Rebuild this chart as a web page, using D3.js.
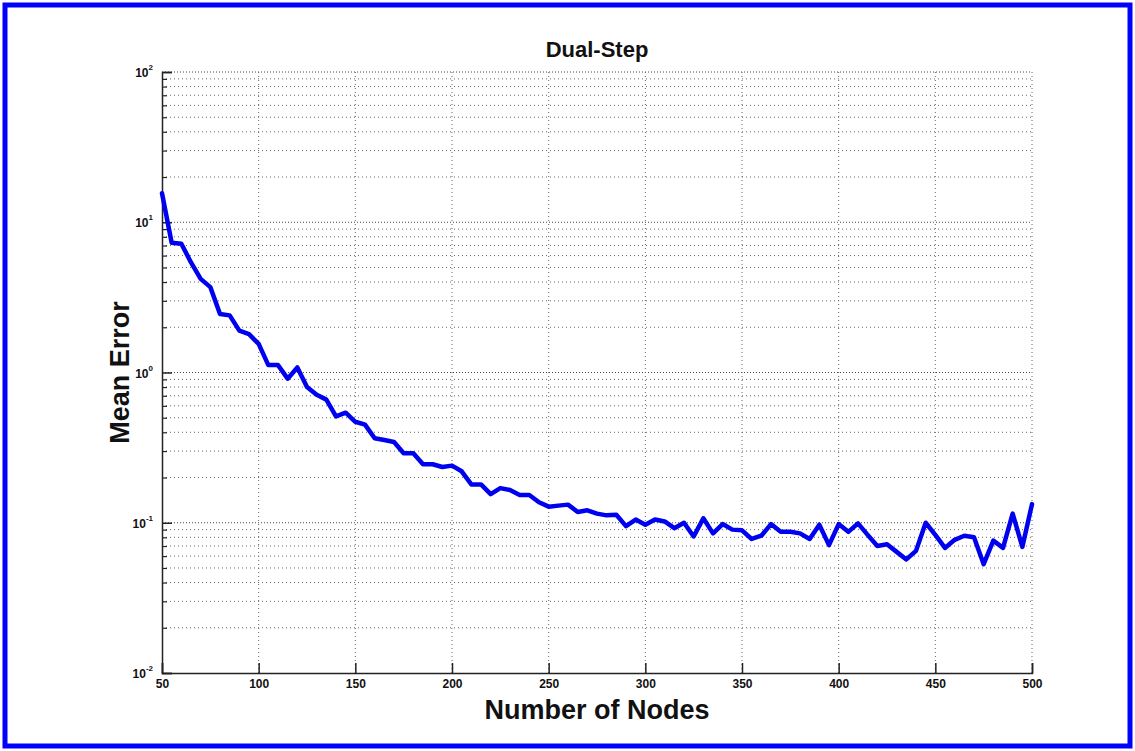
<!DOCTYPE html>
<html>
<head>
<meta charset="utf-8">
<script src="https://cdn.jsdelivr.net/npm/d3@7/dist/d3.min.js"></script>
<style>
html,body{margin:0;padding:0;background:#fff;}
svg{display:block;font-family:"Liberation Sans",Arial,sans-serif;}
</style>
</head>
<body>
<svg id="chart" width="1135" height="751"></svg>
<script>
const nodes = d3.range(50, 501, 5);
const meanError = [
  15.6, 7.3, 7.2, 5.4, 4.2, 3.7, 2.45, 2.4, 1.9, 1.8, 1.55,
  1.12, 1.12, 0.91, 1.08, 0.80, 0.71, 0.66, 0.51, 0.54, 0.47,
  0.45, 0.365, 0.355, 0.345, 0.29, 0.29, 0.245, 0.245, 0.235, 0.24,
  0.22, 0.18, 0.18, 0.155, 0.17, 0.165, 0.153, 0.153, 0.137, 0.128,
  0.13, 0.132, 0.118, 0.121, 0.115, 0.112, 0.113, 0.095, 0.105, 0.097,
  0.105, 0.102, 0.092, 0.1, 0.081, 0.107, 0.085, 0.098, 0.09, 0.089,
  0.078, 0.082, 0.098, 0.087, 0.087, 0.085, 0.078, 0.097, 0.071, 0.098,
  0.087, 0.099, 0.083, 0.070, 0.072, 0.064, 0.057, 0.065, 0.1, 0.083,
  0.068, 0.077, 0.082, 0.08, 0.053, 0.076, 0.068, 0.115, 0.069, 0.133
];
const xTicks = [50, 100, 150, 200, 250, 300, 350, 400, 450, 500];
const yDecades = [-2, -1, 0, 1, 2];
const titleText = "Dual-Step";
const xLabel = "Number of Nodes";
const yLabel = "Mean Error";

const svg = d3.select("#chart");
const m = {left:162, right:1032, top:72, bottom:673};

const x = d3.scaleLinear().domain([50, 500]).range([m.left, m.right]);
const y = d3.scaleLog().domain([0.01, 100]).range([m.bottom, m.top]);

// blue frame
svg.append("rect").attr("x", 5).attr("y", 5).attr("width", 1125).attr("height", 741)
  .attr("fill", "none").attr("stroke", "#0000ff").attr("stroke-width", 5);

const g = svg.append("g");

const minorVals = [];
for (let e = -2; e < 2; e++) for (let k = 2; k <= 9; k++) minorVals.push(k * Math.pow(10, e));
const majorVals = yDecades.map(e => Math.pow(10, e));

g.selectAll("line.hmin").data(minorVals).enter().append("line")
  .attr("x1", m.left).attr("x2", m.right)
  .attr("y1", d => y(d)).attr("y2", d => y(d))
  .attr("stroke", "#666").attr("stroke-width", 1).attr("stroke-dasharray", "1,3");
g.selectAll("line.hmaj").data(majorVals.filter(v => v > 0.01)).enter().append("line")
  .attr("x1", m.left).attr("x2", m.right)
  .attr("y1", d => y(d)).attr("y2", d => y(d))
  .attr("stroke", "#444").attr("stroke-width", 1).attr("stroke-dasharray", "1,2");
g.selectAll("line.v").data(xTicks.slice(1)).enter().append("line")
  .attr("y1", m.top).attr("y2", m.bottom)
  .attr("x1", d => x(d)).attr("x2", d => x(d))
  .attr("stroke", "#666").attr("stroke-width", 1).attr("stroke-dasharray", "1,3");

// axes
const xAxis = d3.axisBottom(x).tickValues(xTicks).tickSize(-10).tickPadding(6).tickFormat(d3.format("d"));
const xg = svg.append("g").attr("transform", `translate(0,${m.bottom})`).call(xAxis);
xg.select(".domain").attr("stroke", "#222").attr("stroke-width", 1.5);
xg.selectAll(".tick line").attr("stroke", "#222").attr("stroke-width", 1.5);
xg.selectAll("text").attr("font-size", 12).attr("font-weight", "bold").attr("fill", "#111");

const yAxisMinor = d3.axisLeft(y).tickValues(minorVals).tickSize(-5).tickFormat("");
const yg2 = svg.append("g").attr("transform", `translate(${m.left},0)`).call(yAxisMinor);
yg2.select(".domain").remove();
yg2.selectAll(".tick line").attr("stroke", "#222").attr("stroke-width", 1.2);

const yAxis = d3.axisLeft(y).tickValues(majorVals).tickSize(-10).tickFormat("");
const yg = svg.append("g").attr("transform", `translate(${m.left},0)`).call(yAxis);
yg.select(".domain").attr("stroke", "#222").attr("stroke-width", 1.5);
yg.selectAll(".tick line").attr("stroke", "#222").attr("stroke-width", 1.5);

// y tick labels 10^e
yDecades.forEach(e => {
  const t = svg.append("text").attr("x", m.left - 9).attr("y", y(Math.pow(10, e)) + 5)
    .attr("text-anchor", "end").attr("font-size", 12).attr("font-weight", "bold").attr("fill", "#111");
  t.append("tspan").text("10");
  t.append("tspan").attr("dy", -7).attr("font-size", 8).text(String(e));
});

// line
const line = d3.line().x((d, i) => x(nodes[i])).y(d => y(d));
svg.append("path").datum(meanError).attr("d", line)
  .attr("fill", "none").attr("stroke", "#0000f0").attr("stroke-width", 4.5)
  .attr("stroke-linejoin", "round").attr("stroke-linecap", "round");

// title and labels
svg.append("text").attr("x", (m.left + m.right) / 2).attr("y", 57).attr("text-anchor", "middle")
  .attr("font-size", 22).attr("font-weight", "bold").attr("fill", "#111").text(titleText);
svg.append("text").attr("x", (m.left + m.right) / 2).attr("y", 719).attr("text-anchor", "middle")
  .attr("font-size", 27).attr("font-weight", "bold").attr("fill", "#111").text(xLabel);
svg.append("text").attr("transform", `translate(129,${(m.top + m.bottom) / 2}) rotate(-90)`)
  .attr("text-anchor", "middle").attr("font-size", 27).attr("font-weight", "bold").attr("fill", "#111").text(yLabel);
</script>
</body>
</html>
